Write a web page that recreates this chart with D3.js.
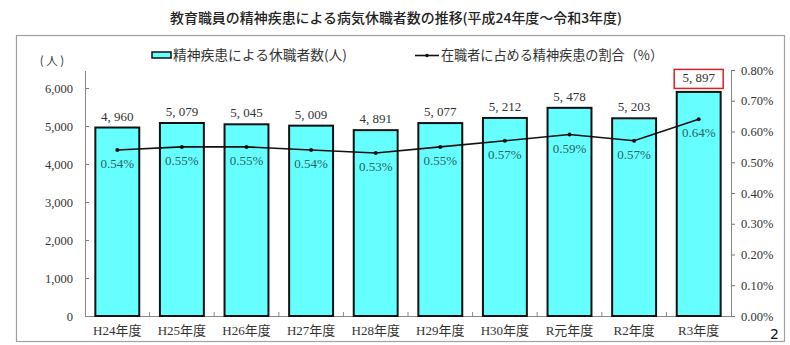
<!DOCTYPE html>
<html><head><meta charset="utf-8">
<script src="https://cdn.jsdelivr.net/npm/d3@7"></script>
<style>
html,body{margin:0;padding:0;background:#fff;}
svg{display:block;}
</style></head>
<body>
<svg id="c" width="790" height="345"></svg>
<script>
const categories = ["H24年度","H25年度","H26年度","H27年度","H28年度","H29年度","H30年度","R元年度","R2年度","R3年度"];
const leaveCounts = [4960, 5079, 5045, 5009, 4891, 5077, 5212, 5478, 5203, 5897];
const leaveRatePct = [0.54, 0.55, 0.55, 0.54, 0.53, 0.55, 0.57, 0.59, 0.57, 0.64];
const leftTicks = [0, 1000, 2000, 3000, 4000, 5000, 6000];
const rightTicks = [0, 0.1, 0.2, 0.3, 0.4, 0.5, 0.6, 0.7, 0.8];

const serif = "'Liberation Serif','DejaVu Serif','Noto Sans CJK JP',serif";
const jp = "'Noto Sans CJK JP','Noto Sans',sans-serif";
const svg = d3.select("#c");

// outer frame
svg.append("rect").attr("x",16.5).attr("y",35.5).attr("width",768).attr("height",306)
  .attr("fill","none").attr("stroke","#a0a0a0").attr("stroke-width",1.2);

// title
svg.append("text").attr("x",396).attr("y",23).attr("text-anchor","middle")
  .attr("font-family",jp).attr("font-size",13.5).attr("font-weight",500).attr("fill","#222")
  .attr("textLength",452).attr("lengthAdjust","spacingAndGlyphs")
  .text("教育職員の精神疾患による病気休職者数の推移(平成24年度～令和3年度)");

const x = d3.scaleBand().domain(categories).range([85,731]).paddingInner(0.32).paddingOuter(0.16);
const yL = d3.scaleLinear().domain([0,6000]).range([316,88]);
const yR = d3.scaleLinear().domain([0,0.8]).range([316,70]);

// left axis
const gL = svg.append("g").attr("transform","translate(85,0)")
  .call(d3.axisLeft(yL).tickValues(leftTicks).tickSize(-4).tickPadding(12).tickFormat(d3.format(",")));
gL.select(".domain").remove();
gL.selectAll("line").attr("stroke","#777");
gL.selectAll("text").attr("font-family",serif).attr("font-size",12.5).attr("fill","#333");
svg.append("line").attr("x1",85.5).attr("x2",85.5).attr("y1",71).attr("y2",316).attr("stroke","#888");

// right axis
const gR = svg.append("g").attr("transform","translate(731,0)")
  .call(d3.axisRight(yR).tickValues(rightTicks).tickSize(4).tickPadding(6).tickFormat(d => d.toFixed(2)+"%"));
gR.select(".domain").attr("stroke","#888").attr("d","M0.5,70V316");
gR.selectAll("line").attr("stroke","#777");
gR.selectAll("text").attr("font-family",serif).attr("font-size",12.5).attr("fill","#333");

// bottom axis
const gB = svg.append("g").attr("transform","translate(0,316)");
gB.append("line").attr("x1",85).attr("x2",731).attr("y1",0.5).attr("y2",0.5).attr("stroke","#888");
gB.selectAll("line.tk").data(d3.range(1,categories.length)).join("line").attr("class","tk")
  .attr("x1",d => 85 + d*(646/categories.length)).attr("x2",d => 85 + d*(646/categories.length))
  .attr("y1",0).attr("y2",-4).attr("stroke","#888");
gB.selectAll("text").data(categories).join("text")
  .attr("x",d => x(d)+x.bandwidth()/2).attr("y",19).attr("text-anchor","middle")
  .attr("font-family",serif).attr("font-size",13).attr("fill","#333").text(d => d);

// bars
svg.append("g").selectAll("rect").data(leaveCounts).join("rect")
  .attr("x",(d,i) => x(categories[i])).attr("width",x.bandwidth())
  .attr("y",d => yL(d)).attr("height",d => yL(0)-yL(d))
  .attr("fill","#66ffff").attr("stroke","#111").attr("stroke-width",2);

// value labels
const fmt = d => d3.format(",")(d).replace(",", ", ");
svg.append("g").selectAll("text").data(leaveCounts).join("text")
  .attr("x",(d,i) => x(categories[i])+x.bandwidth()/2)
  .attr("y",(d,i) => yL(d) - (i===categories.length-1 ? 10 : 7))
  .attr("text-anchor","middle").attr("font-family",serif).attr("font-size",13).attr("fill","#333")
  .text(fmt);

// red box for last
const li = categories.length-1;
svg.append("rect").attr("x",x(categories[li])+x.bandwidth()/2-24.5).attr("y",yL(leaveCounts[li])-22.5)
  .attr("width",49).attr("height",19).attr("fill","none").attr("stroke","#e02020").attr("stroke-width",1.5);

// line
const cx = i => x(categories[i])+x.bandwidth()/2;
svg.append("path").datum(leaveRatePct)
  .attr("d", d3.line().x((d,i)=>cx(i)).y(d=>yR(d)))
  .attr("fill","none").attr("stroke","#111").attr("stroke-width",1.6);
svg.append("g").selectAll("circle").data(leaveRatePct).join("circle")
  .attr("cx",(d,i)=>cx(i)).attr("cy",d=>yR(d)).attr("r",2).attr("fill","#111");
svg.append("g").selectAll("text").data(leaveRatePct).join("text")
  .attr("x",(d,i)=>cx(i)).attr("y",d=>yR(d)+18)
  .attr("text-anchor","middle").attr("font-family",serif).attr("font-size",13).attr("fill","#2a6262")
  .text(d => d.toFixed(2)+"%");

// legend
const lg = svg.append("g");
lg.append("rect").attr("x",152).attr("y",52).attr("width",19).attr("height",6)
  .attr("fill","#66ffff").attr("stroke","#111").attr("stroke-width",1.5);
lg.append("text").attr("x",173).attr("y",60).attr("font-family",jp).attr("font-size",13.5).attr("fill","#333")
  .attr("textLength",174).attr("lengthAdjust","spacingAndGlyphs")
  .text("精神疾患による休職者数(人)");
lg.append("line").attr("x1",415).attr("x2",439).attr("y1",55.5).attr("y2",55.5).attr("stroke","#111").attr("stroke-width",1.6);
lg.append("circle").attr("cx",427).attr("cy",55.5).attr("r",1.8).attr("fill","#111");
lg.append("text").attr("x",441).attr("y",60).attr("font-family",jp).attr("font-size",13.5).attr("fill","#333")
  .attr("textLength",222).attr("lengthAdjust","spacingAndGlyphs")
  .text("在職者に占める精神疾患の割合（%）");

// unit label
svg.append("text").attr("x",52).attr("y",65).attr("text-anchor","middle").attr("font-family",jp)
  .attr("font-size",11.5).attr("fill","#333").text("( 人 )");

// page number
svg.append("text").attr("x",770).attr("y",339).attr("font-family","'DejaVu Sans',sans-serif")
  .attr("font-size",14).attr("fill","#111").text("2");
</script>
</body></html>
